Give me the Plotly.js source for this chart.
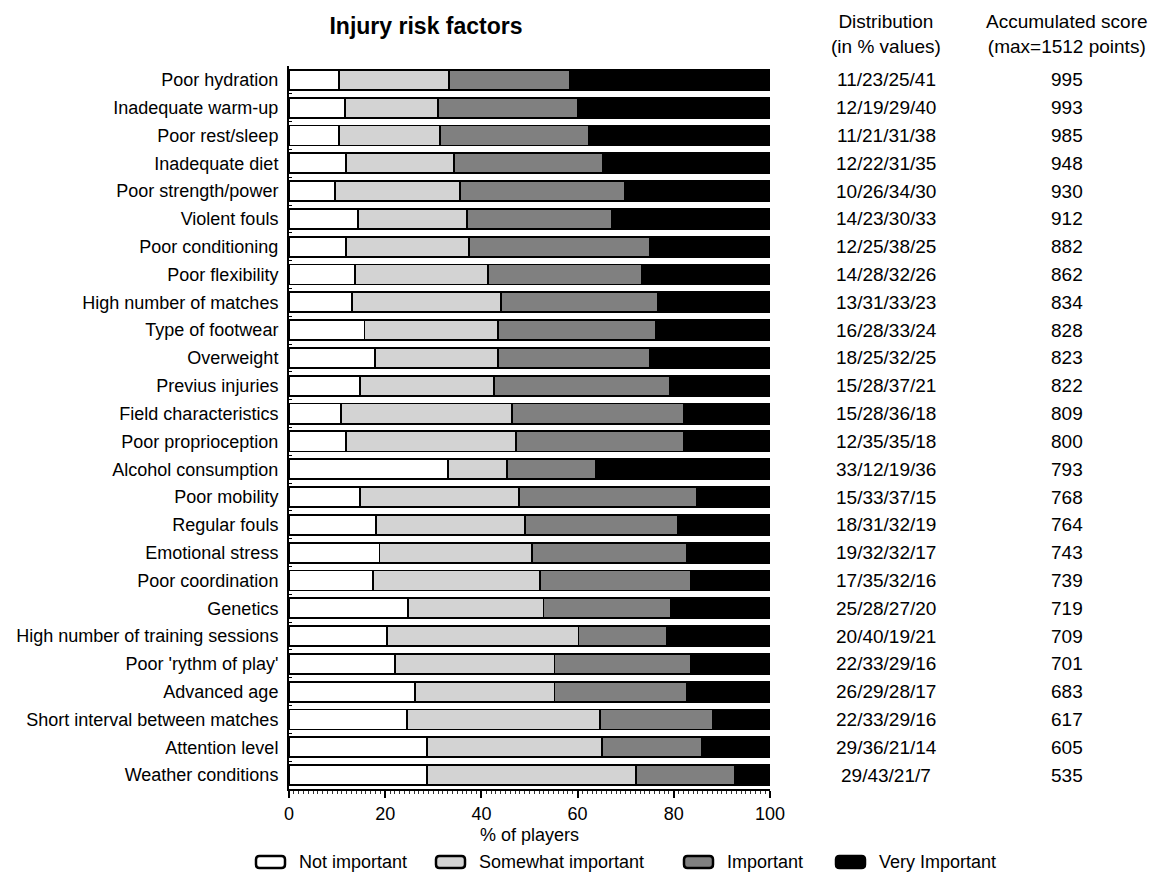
<!DOCTYPE html>
<html>
<head>
<meta charset="utf-8">
<script src="https://cdn.plot.ly/plotly-3.0.1.min.js"></script>
<style>html,body{margin:0;padding:0;background:#fff;}#chart{width:1159px;height:879px;}</style>
</head>
<body>
<div id="chart"></div>
<script>
const categories = [
  "Poor hydration","Inadequate warm-up","Poor rest/sleep","Inadequate diet","Poor strength/power",
  "Violent fouls","Poor conditioning","Poor flexibility","High number of matches","Type of footwear",
  "Overweight","Previus injuries","Field characteristics","Poor proprioception","Alcohol consumption",
  "Poor mobility","Regular fouls","Emotional stress","Poor coordination","Genetics",
  "High number of training sessions","Poor 'rythm of play'","Advanced age","Short interval between matches",
  "Attention level","Weather conditions"
];
// segment widths (% of players)
const notImportant = [10.4,11.6,10.4,11.9,9.6,14.3,11.9,13.7,13.1,15.7,17.9,14.8,10.8,11.8,33.0,14.8,18.1,18.8,17.4,24.7,20.4,22.0,26.2,24.5,28.7,28.7];
const somewhatImportant = [22.8,19.3,21.0,22.4,25.9,22.7,25.5,27.6,31.0,27.7,25.5,27.8,35.5,35.4,12.3,33.0,31.0,31.7,34.7,28.2,39.8,33.2,29.0,40.2,36.3,43.5];
const important = [25.3,29.1,30.9,30.9,34.4,30.2,37.7,32.1,32.6,32.8,31.6,36.6,35.7,34.8,18.6,36.9,31.7,32.2,31.4,26.4,18.4,28.3,27.6,23.4,20.9,20.6];
const veryImportant = [41.5,40.0,37.7,34.8,30.1,32.8,24.9,26.6,23.3,23.8,25.0,20.8,18.0,18.0,36.1,15.3,19.2,17.3,16.5,20.7,21.4,16.5,17.2,11.9,14.1,7.2];
const distributionLabels = [
  "11/23/25/41","12/19/29/40","11/21/31/38","12/22/31/35","10/26/34/30","14/23/30/33","12/25/38/25",
  "14/28/32/26","13/31/33/23","16/28/33/24","18/25/32/25","15/28/37/21","15/28/36/18","12/35/35/18",
  "33/12/19/36","15/33/37/15","18/31/32/19","19/32/32/17","17/35/32/16","25/28/27/20","20/40/19/21",
  "22/33/29/16","26/29/28/17","22/33/29/16","29/36/21/14","29/43/21/7"
];
const accumulatedScore = [995,993,985,948,930,912,882,862,834,828,823,822,809,800,793,768,764,743,739,719,709,701,683,617,605,535];
const seriesNames = ["Not important","Somewhat important","Important","Very Important"];
const xTicks = [0,20,40,60,80,100];

const colors = ["#ffffff","#d3d3d3","#808080","#000000"];
const seriesValues = [notImportant, somewhatImportant, important, veryImportant];
const FONT = "Liberation Sans, Arial, sans-serif";

const W = 1159, H = 879;
const L = 289, R = 770, T = 66, B = 789;
const px = x => (x - L) / (R - L);
const py = y => (B - y) / (B - T);

const traces = seriesValues.map((vals, i) => ({
  type: "bar",
  orientation: "h",
  name: seriesNames[i],
  y: categories,
  x: vals,
  marker: {color: colors[i], line: {color: "#000", width: 1.8}},
  showlegend: false,
  hoverinfo: "x+y+name"
}));

const COLFONT = {family: FONT, size: 19, color: "#000"};
const annotations = [];
annotations.push({xref:"paper", yref:"paper", x: px(886), y: py(34), text: "Distribution<br>(in % values)",
  showarrow:false, font: COLFONT, xanchor:"center", yanchor:"middle", align:"center"});
annotations.push({xref:"paper", yref:"paper", x: px(1067), y: py(34), text: "Accumulated score<br>(max=1512 points)",
  showarrow:false, font: COLFONT, xanchor:"center", yanchor:"middle", align:"center"});
categories.forEach((c, i) => {
  annotations.push({xref:"paper", yref:"y", x: px(886), y: c, text: distributionLabels[i], showarrow:false,
    font: COLFONT, xanchor:"center", yanchor:"middle"});
  annotations.push({xref:"paper", yref:"y", x: px(1067), y: c, text: String(accumulatedScore[i]), showarrow:false,
    font: COLFONT, xanchor:"center", yanchor:"middle"});
});

// legend drawn manually (rounded boxes + labels)
const legendBoxX = [256, 436, 684, 836];
const legendBoxW = 29, legendBoxH = 12;
const legendY = 862;
const shapes = [];
function roundedRect(x0, y0, w, h, r) {
  const X = v => px(v), Y = v => py(v);
  return `M ${X(x0 + r)} ${Y(y0)} L ${X(x0 + w - r)} ${Y(y0)} Q ${X(x0 + w)} ${Y(y0)} ${X(x0 + w)} ${Y(y0 + r)} ` +
         `L ${X(x0 + w)} ${Y(y0 + h - r)} Q ${X(x0 + w)} ${Y(y0 + h)} ${X(x0 + w - r)} ${Y(y0 + h)} ` +
         `L ${X(x0 + r)} ${Y(y0 + h)} Q ${X(x0)} ${Y(y0 + h)} ${X(x0)} ${Y(y0 + h - r)} ` +
         `L ${X(x0)} ${Y(y0 + r)} Q ${X(x0)} ${Y(y0)} ${X(x0 + r)} ${Y(y0)} Z`;
}
seriesNames.forEach((n, i) => {
  shapes.push({type:"path", xref:"paper", yref:"paper",
    path: roundedRect(legendBoxX[i], legendY - legendBoxH / 2, legendBoxW, legendBoxH, 3.5),
    fillcolor: colors[i], line:{color:"#000", width:2.5}});
  annotations.push({xref:"paper", yref:"paper", x: px(legendBoxX[i] + legendBoxW + 12), y: py(legendY), text: n, showarrow:false,
    font:{family:FONT, size:18, color:"#000"}, xanchor:"left", yanchor:"middle"});
});

const layout = {
  width: W, height: H,
  margin: {l: L, r: W - R, t: T, b: H - B, pad: 0},
  paper_bgcolor: "#fff", plot_bgcolor: "#fff",
  barmode: "stack",
  bargap: 0.28,
  title: {text: "<b>Injury risk factors</b>", x: px(426), xref:"paper", xanchor:"center", y: 1 - 26 / H, yanchor:"middle",
    font: {family: FONT, size: 23, color: "#000"}},
  xaxis: {
    range: [0, 100], tickvals: xTicks, ticktext: xTicks.map(String),
    showgrid: false, zeroline: false, showline: true, linecolor: "#000", linewidth: 2,
    ticks: "outside", ticklen: 7, tickwidth: 2, tickcolor: "#000",
    minor: {dtick: 1, ticks: "outside", ticklen: 3, tickwidth: 1, tickcolor: "#333"},
    tickfont: {family: FONT, size: 18, color: "#000"},
    title: {text: "% of players", font: {family: FONT, size: 18, color: "#000"}, standoff: 6},
    fixedrange: true
  },
  yaxis: {
    type: "category", categoryorder: "array", categoryarray: categories,
    range: [categories.length - 0.5, -0.5],
    showgrid: false, zeroline: false, showline: true, linecolor: "#000", linewidth: 2,
    ticks: "inside", tickson: "boundaries", ticklen: 3, tickcolor: "#000", tickwidth: 1,
    tickfont: {family: FONT, size: 18, color: "#000"},
    ticklabelstandoff: 5,
    fixedrange: true
  },
  annotations: annotations,
  shapes: shapes,
  showlegend: false
};

Plotly.newPlot("chart", traces, layout, {displayModeBar: false, staticPlot: true});
</script>
</body>
</html>
